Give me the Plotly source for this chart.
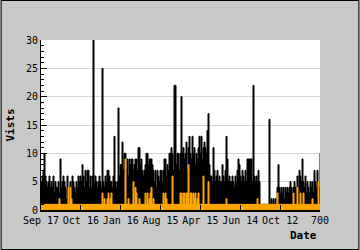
import numpy as np
import plotly.graph_objects as go

# Visits per sample (black series), read column by column
visits = [
    5, 6, 7, 10, 6, 5, 4, 5, 6, 4,
    5, 4, 6, 3, 5, 4, 4, 5, 3, 9,
    4, 5, 6, 5, 4, 2, 6, 2, 4, 5,
    4, 6, 5, 4, 3, 5, 4, 6, 5, 6,
    5, 8, 6, 4, 7, 5, 7, 7, 4, 6,
    4, 6, 30, 5, 6, 5, 4, 5, 6, 5,
    4, 25, 5, 4, 6, 5, 7, 7, 6, 5,
    5, 4, 6, 13, 5, 4, 5, 18, 6, 8,
    8, 12, 7, 10, 10, 7, 9, 6, 9, 8,
    9, 9, 7, 8, 9, 9, 7, 11, 11, 8,
    9, 7, 6, 7, 8, 10, 10, 8, 9, 9,
    9, 8, 7, 5, 7, 4, 7, 6, 5, 7,
    7, 5, 7, 9, 9, 6, 8, 7, 10, 10,
    11, 10, 7, 22, 22, 8, 10, 10, 7, 10,
    20, 10, 11, 9, 10, 12, 7, 11, 13, 10,
    9, 13, 10, 11, 8, 10, 9, 11, 13, 10,
    13, 9, 11, 12, 11, 10, 14, 17, 8, 6,
    6, 5, 11, 7, 5, 6, 7, 5, 6, 5,
    5, 8, 6, 5, 7, 13, 9, 5, 6, 5,
    5, 6, 5, 4, 6, 5, 7, 9, 8, 6,
    5, 7, 6, 5, 7, 5, 9, 9, 9, 9,
    9, 5, 22, 6, 5, 6, 5, 7, 5, 1,
    1, 1, 1, 1, 1, 1, 1, 1, 16, 1,
    2, 1, 2, 1, 2, 1, 4, 8, 4, 3,
    4, 3, 4, 2, 4, 3, 4, 3, 4, 5,
    4, 3, 4, 5, 4, 3, 6, 4, 7, 6,
    5, 9, 5, 4, 6, 3, 5, 4, 3, 5,
    4, 5, 3, 7, 5, 4, 7, 5, 4, 10,
]

# Second series (orange)
uniques = [
    1, 1, 1, 1, 1, 1, 1, 1, 1, 1,
    1, 1, 1, 1, 1, 1, 1, 1, 2, 1,
    1, 1, 1, 1, 1, 1, 1, 4, 1, 4,
    2, 1, 1, 1, 1, 1, 1, 1, 1, 1,
    1, 1, 1, 1, 1, 1, 1, 1, 1, 1,
    1, 1, 1, 1, 1, 1, 1, 1, 1, 1,
    1, 3, 1, 2, 1, 1, 2, 3, 1, 2,
    3, 1, 1, 1, 1, 1, 1, 1, 1, 1,
    1, 1, 1, 1, 9, 1, 1, 2, 1, 1,
    1, 1, 5, 1, 4, 3, 1, 1, 2, 1,
    1, 1, 1, 1, 3, 1, 3, 1, 2, 3,
    4, 1, 2, 1, 1, 1, 1, 1, 1, 1,
    1, 1, 3, 1, 3, 2, 1, 1, 1, 1,
    1, 6, 1, 1, 1, 1, 1, 1, 1, 3,
    3, 1, 3, 3, 1, 3, 3, 8, 1, 3,
    3, 1, 3, 2, 3, 1, 2, 3, 1, 1,
    1, 1, 6, 1, 1, 1, 1, 5, 1, 1,
    1, 1, 1, 1, 1, 1, 1, 1, 1, 1,
    1, 1, 1, 1, 1, 2, 1, 1, 1, 1,
    1, 1, 1, 1, 1, 1, 1, 1, 1, 1,
    1, 1, 1, 1, 1, 1, 1, 1, 1, 1,
    1, 1, 1, 1, 1, 1, 2, 1, 1, 1,
    1, 1, 1, 1, 1, 1, 1, 1, 1, 1,
    1, 1, 1, 1, 1, 1, 3, 1, 1, 1,
    1, 1, 1, 1, 1, 1, 1, 1, 1, 1,
    1, 1, 3, 1, 1, 1, 4, 1, 1, 3,
    1, 1, 3, 1, 1, 1, 1, 1, 1, 1,
    1, 2, 1, 1, 1, 1, 1, 5, 1, 1,
]

tick_vals = [0, 100, 200, 300, 400, 500, 600, 700]
tick_text = ["Sep 17", "Oct 16", "Jan 16", "Aug 15", "Apr 15", "Jun 14", "Oct 12", "700"]

x = np.linspace(0, 700, len(visits))

fig = go.Figure()
fig.add_trace(go.Scatter(x=x, y=visits, mode="lines", line=dict(color="black", width=1, shape="hv"),
                         fill="tozeroy", fillcolor="black", hoverinfo="skip"))
fig.add_trace(go.Scatter(x=x, y=uniques, mode="lines", line=dict(color="#ffa500", width=1, shape="hv"),
                         fill="tozeroy", fillcolor="#ffa500", hoverinfo="skip"))

font = dict(family="DejaVu Sans Mono", size=10, color="black")
L, R, T, B = 40.5, 320.5, 40, 210
W, H = 360, 250

fig.update_layout(
    width=W, height=H,
    margin=dict(l=L, r=W - R, t=T, b=H - B, pad=0),
    paper_bgcolor="#c8c8c8", plot_bgcolor="white",
    showlegend=False, font=font,
    xaxis=dict(range=[0, 700], tickvals=tick_vals, ticktext=tick_text, showgrid=False,
               ticks="inside", ticklen=5, tickcolor="black", showline=True, linecolor="black",
               linewidth=2, zeroline=False, tickfont=font, fixedrange=True),
    yaxis=dict(range=[0, 30], dtick=5, showgrid=True, gridcolor="#d4d4d4", gridwidth=1,
               ticks="inside", ticklen=6, tickcolor="black", showline=True, linecolor="black",
               linewidth=1, zeroline=False, tickfont=font, fixedrange=True,
               minor=dict(dtick=1, ticks="inside", ticklen=3, tickcolor="black", showgrid=False)),
    shapes=[dict(type="rect", xref="paper", yref="paper",
                 x0=(0.5 - L) / (R - L), x1=(W - 0.5 - L) / (R - L),
                 y0=(B - (H - 0.5)) / (B - T), y1=(B - 0.5) / (B - T),
                 line=dict(color="black", width=1), fillcolor="rgba(0,0,0,0)", layer="above")],
    annotations=[
        dict(text="<b>Vists</b>", xref="paper", yref="paper", x=(9 - L) / (R - L), y=(B - 125) / (B - T),
             textangle=-90, showarrow=False, xanchor="center", yanchor="middle",
             font=dict(family="DejaVu Sans Mono", size=11, color="black")),
        dict(text="<b>Date</b>", xref="paper", yref="paper", x=(319 - L) / (R - L), y=(B - 236) / (B - T),
             showarrow=False, xanchor="right", yanchor="middle",
             font=dict(family="DejaVu Sans Mono", size=11, color="black")),
    ],
)

fig.write_html("out.html")
